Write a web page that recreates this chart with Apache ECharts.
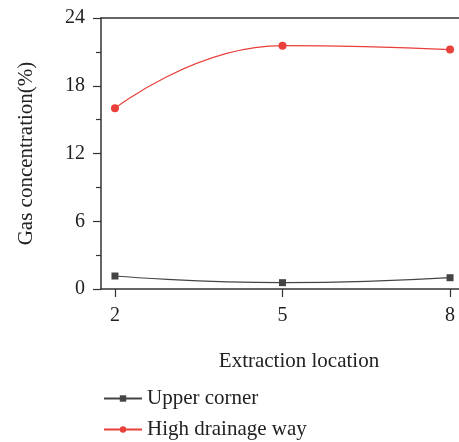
<!DOCTYPE html>
<html><head><meta charset="utf-8">
<script src="https://cdn.jsdelivr.net/npm/echarts@6/dist/echarts.min.js"></script>
<style>html,body{margin:0;padding:0;background:#fff}#c{width:459px;height:442px}</style>
</head><body><div id="c"></div>
<script>
const locations = [2, 5, 8];
const upperCorner = [1.15, 0.56, 1.0];
const highDrainage = [16.0, 21.55, 21.2];
const yTicks = [0, 6, 12, 18, 24];
const seriesNames = ['Upper corner', 'High drainage way'];

const font = 'Liberation Serif';
const legendBase = {
  orient: 'vertical', left: 98, itemWidth: 38, itemHeight: 8,
  textStyle: {fontFamily: font, fontSize: 21, color: '#222'}
};
const chart = echarts.init(document.getElementById('c'));
chart.setOption({
  animation: false,
  textStyle: {fontFamily: font},
  grid: {left: 101, top: 18, width: 363, height: 271, show: false,
    outerBoundsMode: 'none', containLabel: false},
  xAxis: [{
    type: 'value', min: 1.75, max: 8.25,
    name: 'Extraction location', nameLocation: 'middle', nameGap: 62,
    nameTextStyle: {fontFamily: font, fontSize: 21, color: '#222', padding: [0, 0, 0, 33]},
    axisLine: {lineStyle: {color: '#333', width: 1.5}},
    axisTick: {show: true, inside: false, length: 8, customValues: locations, lineStyle: {color: '#333', width: 1.2}},
    axisLabel: {customValues: locations, fontFamily: font, fontSize: 20, color: '#222', margin: 17},
    splitLine: {show: false}
  }, {
    type: 'value', position: 'top', min: 1.75, max: 8.25,
    axisLine: {show: true, lineStyle: {color: '#333', width: 1.5}},
    axisTick: {show: false}, axisLabel: {show: false}, splitLine: {show: false}
  }],
  yAxis: {
    type: 'value', min: 0, max: 24, interval: 6,
    name: 'Gas concentration(%)', nameLocation: 'middle', nameGap: 64,
    nameTextStyle: {fontFamily: font, fontSize: 21, color: '#222'},
    axisLine: {show: true, lineStyle: {color: '#333', width: 1.5}},
    axisTick: {show: true, length: 8, lineStyle: {color: '#333', width: 1.2}},
    minorTick: {show: true, splitNumber: 2, length: 5, lineStyle: {color: '#333', width: 1.2}},
    axisLabel: {fontFamily: font, fontSize: 20, color: '#222', margin: 16,
      formatter: v => yTicks.includes(v) ? String(v) : ''},
    splitLine: {show: false}
  },
  legend: [
    Object.assign({}, legendBase, {top: 383, data: [seriesNames[0]]}),
    Object.assign({}, legendBase, {top: 414, data: [seriesNames[1]]})
  ],
  series: [
    {name: seriesNames[0], type: 'line', smooth: true,
      data: locations.map((x, i) => [x, upperCorner[i]]),
      symbol: 'rect', symbolSize: 7,
      lineStyle: {color: '#444', width: 1.2}, itemStyle: {color: '#444'}},
    {name: seriesNames[1], type: 'line', smooth: true,
      data: locations.map((x, i) => [x, highDrainage[i]]),
      symbol: 'circle', symbolSize: 8,
      lineStyle: {color: '#e8403a', width: 1.2}, itemStyle: {color: '#e8403a'}}
  ]
});
</script></body></html>
